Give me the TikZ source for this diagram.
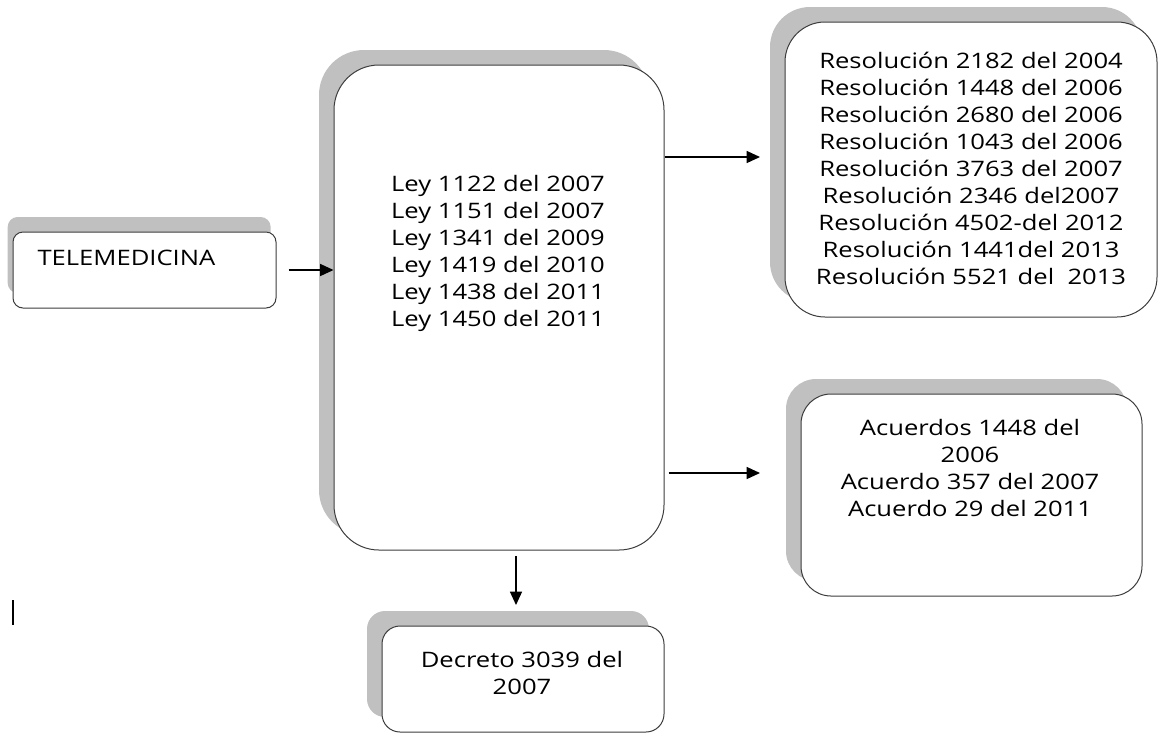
\documentclass[tikz,border=0pt]{standalone}
\usepackage{fontspec}
\setmainfont[FakeStretch=1.2]{Open Sans}
\usetikzlibrary{arrows.meta,shadows}

\tikzset{every picture/.style={line width=0.75pt}}
\tikzset{
	caja/.style={draw={rgb, 255:red, 60; green, 60; blue, 60 }, fill=white, inner sep=0pt, rounded corners=#1},
	sombra/.style={drop shadow={shadow xshift=#1, shadow yshift=11.25pt, fill={rgb, 255:red, 192; green, 192; blue, 192 }, opacity=1}},
	sombra/.default=-11.25pt,
	texto/.style={align=center, inner sep=0pt, font=\fontsize{16}{20.25}\selectfont},
	flecha/.style={-{Triangle[length=10pt,width=9pt]}, line width=1pt}
}

\begin{document}
\begin{tikzpicture}[x=0.75pt,y=0.75pt,yscale=-1,xscale=1]
	\useasboundingbox (0,0) rectangle (1159,733);

	%Shape: Rounded Rect [id:tele] 
	\node[caja=7.5pt, sombra=-4pt, minimum width=197.25pt, minimum height=57pt] (tele) at (144.5,270) {};
	%Shape: Rounded Rect [id:leyes] 
	\node[caja=33.75pt, sombra, minimum width=247.5pt, minimum height=363.75pt] (leyes) at (499,307.5) {};
	%Shape: Rounded Rect [id:resol] 
	\node[caja=30pt, sombra, minimum width=279pt, minimum height=221.25pt] (resol) at (971,169.5) {};
	%Shape: Rounded Rect [id:acuer] 
	\node[caja=22.5pt, sombra, minimum width=255.75pt, minimum height=151.5pt] (acuer) at (971.5,495) {};
	%Shape: Rounded Rect [id:decreto] 
	\node[caja=13.5pt, sombra, minimum width=211.5pt, minimum height=79.5pt] (decreto) at (523,679) {};

	% Text Node
	\node[texto, anchor=west] (tele-txt) at (37,258) {TELEMEDICINA};
	% Text Node
	\node[texto] (leyes-txt) at (498,253) {Ley 1122 del 2007\\Ley 1151 del 2007\\Ley 1341 del 2009\\Ley 1419 del 2010\\Ley 1438 del 2011\\Ley 1450 del 2011};
	% Text Node
	\node[texto] (resol-txt) at (971,168) {Resolución 2182 del 2004\\Resolución 1448 del 2006\\Resolución 2680 del 2006\\Resolución 1043 del 2006\\Resolución 3763 del 2007\\Resolución 2346 del2007\\Resolución 4502-del 2012\\Resolución 1441del 2013\\Resolución 5521 del \ 2013};
	% Text Node
	\node[texto] (acuer-txt) at (970,468) {Acuerdos 1448 del\\2006\\Acuerdo 357 del 2007\\Acuerdo 29 del 2011};
	% Text Node
	\node[texto] (decreto-txt) at (522,673) {Decreto 3039 del\\2007};

	%Straight Lines 
	\draw[flecha, shorten <=9pt] (tele.east) -- (tele.east -| leyes.west);
	%Straight Lines 
	\coordinate (r1) at (760,157);
	\draw[flecha] (leyes.east |- r1) -- (r1);
	%Straight Lines 
	\coordinate (a1) at (760,473);
	\draw[flecha, shorten <=3pt] (leyes.east |- a1) -- (a1);
	%Straight Lines 
	\coordinate (d1) at (516,605);
	\draw[flecha, shorten <=4pt] (leyes.south -| d1) -- (d1);

	%Straight Lines 
	\draw[line width=2pt] (13,600) -- (13,625);

\end{tikzpicture}
\end{document}
